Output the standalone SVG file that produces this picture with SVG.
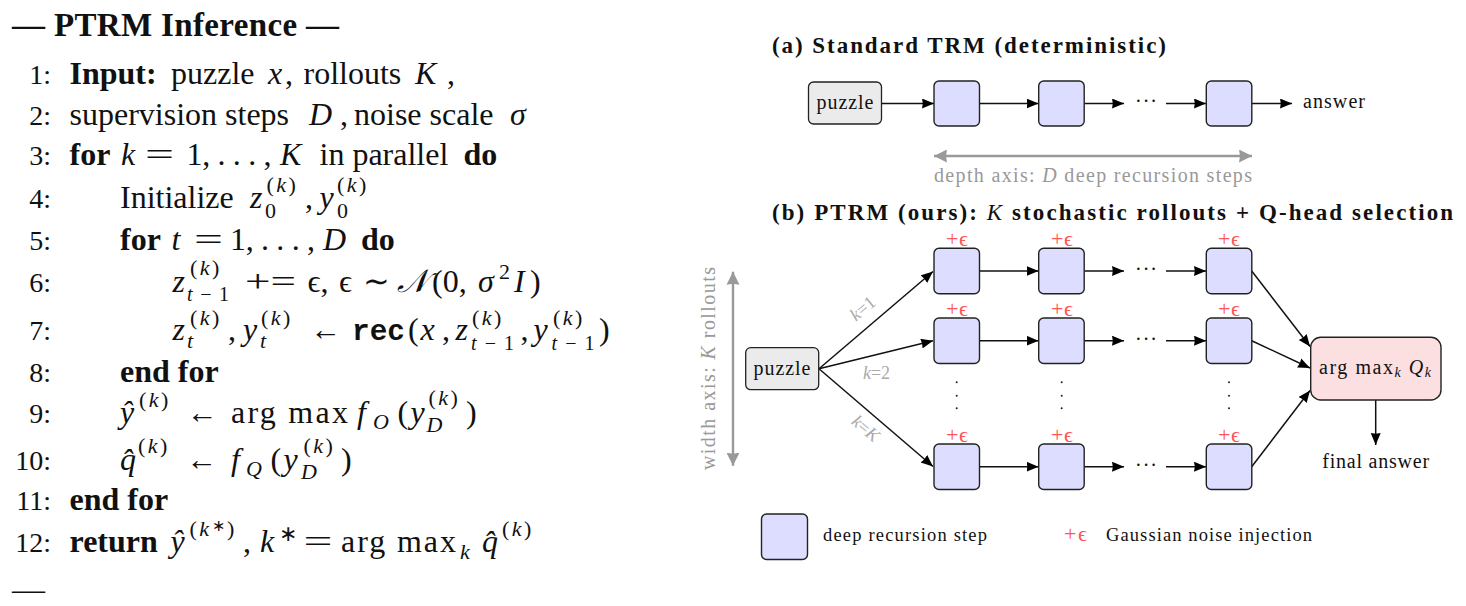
<svg xmlns="http://www.w3.org/2000/svg" width="1466" height="606" viewBox="0 0 1466 606">
<style>
text{font-family:"Liberation Serif","Times New Roman",serif;fill:#111}
.l{font-size:32px}.b{font-weight:700}.i{font-style:italic}
.n{text-anchor:end;font-size:28px}
.s{font-size:22px}.ss{font-size:16px}
.u{letter-spacing:2.500px}
.m{font-family:"Liberation Mono",monospace;font-weight:700}
.h{font-size:23px;font-weight:700}
.c{font-size:20px}
.g{fill:#999}.lg{fill:#aaa;font-size:18px}
.e{fill:#f55;font-size:22px}
.mid{text-anchor:middle}
.lt{font-size:18.500px}
.step{fill:#ddf;stroke:#222;stroke-width:1.4}
.inp{fill:#ebebeb;stroke:#222;stroke-width:1.3}
.sel{fill:#fcdfe0;stroke:#222;stroke-width:1.4}
.w{stroke:#111;stroke-width:1.5;fill:none;marker-end:url(#ah)}
.ax{stroke:#999;stroke-width:2.4;fill:none;marker-end:url(#gh);marker-start:url(#gs)}
.v{fill:#222}
</style>
<defs>
<marker id="ah" markerUnits="userSpaceOnUse" markerWidth="14" markerHeight="12" refX="12" refY="5" orient="auto"><path d="M0 0L12 5L0 10L0.8 5Z" fill="#000"/></marker>
<marker id="gh" markerUnits="userSpaceOnUse" markerWidth="16" markerHeight="14" refX="13" refY="6.5" orient="auto"><path d="M0 0L13 6.5L0 13L1 6.5Z" fill="#999"/></marker>
<marker id="gs" markerUnits="userSpaceOnUse" markerWidth="16" markerHeight="14" refX="0" refY="6.5" orient="auto"><path d="M13 0L0 6.5L13 13L12 6.5Z" fill="#999"/></marker>
</defs>
<g id="algorithm">
<text class="b" x="12" y="36" style="font-size:33px" textLength="327">— PTRM Inference —</text>
<g id="line1"><text class="l n" x="51" y="84">1:</text><text class="l b" x="69.500" y="84">Input:</text><text class="l" x="171" y="84">puzzle</text><text class="l i" x="268" y="84">x</text><text class="l" x="285" y="84">,</text><text class="l" x="303.500" y="84">rollouts</text><text class="l i" x="415" y="84">K</text><text class="l" x="447" y="84">,</text></g>
<g id="line2"><text class="l n" x="51" y="125">2:</text><text class="l" x="69.500" y="125">supervision steps</text><text class="l i" x="309" y="125">D</text><text class="l" x="340" y="125">,</text><text class="l" x="354" y="125">noise scale</text><text class="l i" x="510" y="125">σ</text></g>
<g id="line3"><text class="l n" x="51" y="165">3:</text><text class="l b" x="69.500" y="165">for</text><text class="l i" x="121" y="165">k</text><text class="l" x="145" y="165" textLength="29" lengthAdjust="spacingAndGlyphs">=</text><text class="l" x="186.500" y="165" textLength="85">1, . . . ,</text><text class="l i" x="280" y="165">K</text><text class="l" x="319.500" y="165">in parallel</text><text class="l b" x="463.500" y="165">do</text></g>
<g id="line4"><text class="l n" x="51" y="208">4:</text><text class="l" x="120" y="208">Initialize</text><text class="l i" x="250" y="208">z</text><text class="s u" x="266.500" y="192"><tspan>(</tspan><tspan class="i">k</tspan><tspan>)</tspan></text><text class="s" x="265" y="218">0</text><text class="l" x="305" y="208">,</text><text class="l i" x="319.500" y="208">y</text><text class="s u" x="337" y="192"><tspan>(</tspan><tspan class="i">k</tspan><tspan>)</tspan></text><text class="s" x="337" y="218">0</text></g>
<g id="line5"><text class="l n" x="51" y="250">5:</text><text class="l b" x="120" y="250">for</text><text class="l i" x="171.500" y="250">t</text><text class="l" x="194" y="250" textLength="29" lengthAdjust="spacingAndGlyphs">=</text><text class="l" x="230" y="250" textLength="85">1, . . . ,</text><text class="l i" x="323" y="250">D</text><text class="l b" x="361" y="250">do</text></g>
<g id="line6"><text class="l n" x="51" y="292">6:</text><text class="l i" x="172.500" y="292">z</text><text class="s u" x="190" y="275"><tspan>(</tspan><tspan class="i">k</tspan><tspan>)</tspan></text><text x="187" y="301" style="font-size:20px" textLength="42"><tspan class="i">t</tspan>−1</text><text class="l" x="245" y="292" textLength="51" lengthAdjust="spacingAndGlyphs">+=</text><text class="l" x="307.500" y="292">ϵ,</text><text class="l" x="339" y="292">ϵ</text><text class="l" x="363" y="292">∼</text><text class="l i" x="397" y="292">𝒩</text><text class="l" x="432" y="292">(0,</text><text class="l i" x="478" y="292">σ</text><text class="s" x="499" y="279">2</text><text class="l i" x="514" y="292">I</text><text class="l" x="530" y="292">)</text></g>
<g id="line7"><text class="l n" x="51" y="340">7:</text><text class="l i" x="172.500" y="340">z</text><text class="s u" x="190" y="325"><tspan>(</tspan><tspan class="i">k</tspan><tspan>)</tspan></text><text class="s i" x="187" y="348">t</text><text class="l" x="228" y="340">,</text><text class="l i" x="243" y="340">y</text><text class="s u" x="261" y="325"><tspan>(</tspan><tspan class="i">k</tspan><tspan>)</tspan></text><text class="s i" x="260" y="348">t</text><text class="l" x="310" y="340" textLength="31" lengthAdjust="spacingAndGlyphs">←</text><text class="m" x="352" y="340" textLength="53" lengthAdjust="spacingAndGlyphs" style="font-size:29px">rec</text><text class="l" x="408" y="340">(</text><text class="l i" x="420.500" y="340">x</text><text class="l" x="442" y="340">,</text><text class="l i" x="455.500" y="340">z</text><text class="s u" x="472" y="325"><tspan>(</tspan><tspan class="i">k</tspan><tspan>)</tspan></text><text x="471" y="350" style="font-size:20px" textLength="43"><tspan class="i">t</tspan>−1</text><text class="l" x="520.500" y="340">,</text><text class="l i" x="533.500" y="340">y</text><text class="s u" x="553" y="325"><tspan>(</tspan><tspan class="i">k</tspan><tspan>)</tspan></text><text x="551.500" y="350" style="font-size:20px" textLength="43"><tspan class="i">t</tspan>−1</text><text class="l" x="599" y="340">)</text></g>
<g id="line8"><text class="l n" x="51" y="382">8:</text><text class="l b" x="120" y="382">end for</text></g>
<g id="line9"><text class="l n" x="51" y="423">9:</text><text class="l i" x="120" y="423">ŷ</text><text class="s u" x="139" y="407"><tspan>(</tspan><tspan class="i">k</tspan><tspan>)</tspan></text><text class="l" x="186.500" y="423" textLength="31" lengthAdjust="spacingAndGlyphs">←</text><text class="l" x="231" y="423" textLength="117">arg max</text><text class="l i" x="357" y="423">f</text><text class="s i" x="373" y="429">O</text><text class="l" x="397.500" y="423">(</text><text class="l i" x="410.500" y="423">y</text><text class="s u" x="428.500" y="405"><tspan>(</tspan><tspan class="i">k</tspan><tspan>)</tspan></text><text class="s i" x="426.500" y="432">D</text><text class="l" x="466" y="423">)</text></g>
<g id="line10"><text class="l n" x="51" y="470">10:</text><text class="l i" x="120" y="470">q̂</text><text class="s u" x="138" y="453"><tspan>(</tspan><tspan class="i">k</tspan><tspan>)</tspan></text><text class="l" x="186" y="470" textLength="31" lengthAdjust="spacingAndGlyphs">←</text><text class="l i" x="231" y="470">f</text><text class="s i" x="246" y="476">Q</text><text class="l" x="270.500" y="470">(</text><text class="l i" x="283.500" y="470">y</text><text class="s u" x="303.500" y="453"><tspan>(</tspan><tspan class="i">k</tspan><tspan>)</tspan></text><text class="s i" x="301" y="479">D</text><text class="l" x="341" y="470">)</text></g>
<g id="line11"><text class="l n" x="51" y="510">11:</text><text class="l b" x="69.500" y="510">end for</text></g>
<g id="line12"><text class="l n" x="51" y="552">12:</text><text class="l b" x="69.500" y="552">return</text><text class="l i" x="170.500" y="552">ŷ</text><text class="s u" x="189.500" y="536"><tspan>(</tspan><tspan class="i">k</tspan><tspan class="ss" dy="-5">∗</tspan><tspan dy="5">)</tspan></text><text class="l" x="243" y="552">,</text><text class="l i" x="260" y="552">k</text><text class="s" x="279" y="541">∗</text><text class="l" x="303.500" y="552" textLength="29" lengthAdjust="spacingAndGlyphs">=</text><text class="l" x="341" y="552" textLength="115">arg max</text><text class="s i" x="460" y="559">k</text><text class="l i" x="482" y="552">q̂</text><text class="s u" x="502" y="536"><tspan>(</tspan><tspan class="i">k</tspan><tspan>)</tspan></text></g>
<text class="l" x="12" y="600" id="rule" textLength="33" lengthAdjust="spacingAndGlyphs">—</text>
</g>
<g id="connectors">
<path class="w" d="M882 103.500H934"/><path class="w" d="M979.500 103.500H1038.500"/><path class="w" d="M1084.500 103.500H1124"/><path class="w" d="M1166 103.500H1206"/><path class="w" d="M1252 103.500H1292"/>
<path class="ax" d="M934 156H1252"/>
<path class="ax" d="M733 271.700V465.700"/>
<path class="w" d="M819 368.700L933 271.500"/><path class="w" d="M819 368.700L933 340.800"/><path class="w" d="M819 368.700L933 466.500"/>
<path class="w" d="M979.500 271H1038.500"/><path class="w" d="M1084.500 271H1124"/><path class="w" d="M1166 271H1206"/>
<path class="w" d="M979.500 340.700H1038.500"/><path class="w" d="M1084.500 340.700H1124"/><path class="w" d="M1166 340.700H1206"/>
<path class="w" d="M979.500 466.700H1038.500"/><path class="w" d="M1084.500 466.700H1124"/><path class="w" d="M1166 466.700H1206"/>
<path class="w" d="M1251.700 271L1310 346.500"/><path class="w" d="M1251.700 340.700L1310 368"/><path class="w" d="M1251.700 466.700L1310 390.500"/>
<path class="w" d="M1375.700 400V445"/>
</g>
<g id="panel-a">
<text class="h" x="772" y="53" textLength="394">(a) Standard TRM (deterministic)</text>
<g id="a-puzzle"><rect class="inp" x="808.500" y="82" width="73" height="42" rx="5"/><text class="c mid" x="845" y="108.500" textLength="57">puzzle</text></g>
<g id="a-step1"><rect class="step" x="934" y="81" width="45.500" height="45" rx="5"/></g>
<g id="a-step2"><rect class="step" x="1038.700" y="81" width="45.500" height="45" rx="5"/></g>
<text class="c" x="1135" y="108" textLength="22">···</text>
<g id="a-step3"><rect class="step" x="1206.300" y="81" width="45.500" height="45" rx="5"/></g>
<g id="a-answer"><text class="c" x="1303" y="108" textLength="62">answer</text></g>
<text class="c g" x="934" y="182" textLength="318"><tspan>depth axis: </tspan><tspan class="i">D</tspan><tspan> deep recursion steps</tspan></text>
</g>
<g id="panel-b">
<text class="h" x="772" y="220" textLength="681"><tspan>(b) PTRM (ours): </tspan><tspan class="i" font-weight="400">K</tspan><tspan> stochastic rollouts + Q-head selection</tspan></text>
<text class="c g" transform="translate(715 470) rotate(-90)" textLength="203"><tspan>width axis: </tspan><tspan class="i">K</tspan><tspan> rollouts</tspan></text>
<g id="b-puzzle"><rect class="inp" x="745.700" y="347.700" width="73" height="42" rx="5"/><text class="c mid" x="782" y="374.500" textLength="57">puzzle</text></g>
<text class="lg i mid" transform="translate(866.500 313) rotate(-40)"><tspan>k</tspan><tspan font-style="normal">=1</tspan></text>
<text class="lg i mid" x="876.500" y="379"><tspan>k</tspan><tspan font-style="normal">=2</tspan></text>
<text class="lg i mid" transform="translate(862 433) rotate(40)"><tspan>k</tspan><tspan font-style="normal">=</tspan><tspan>K</tspan></text>
<g id="r1c1"><rect class="step" x="934" y="248.300" width="45.500" height="45.500" rx="5"/><text class="e" x="946" y="246" textLength="22">+ϵ</text></g>
<g id="r1c2"><rect class="step" x="1038.700" y="248.300" width="45.500" height="45.500" rx="5"/><text class="e" x="1051" y="246" textLength="22">+ϵ</text></g>
<text class="c" x="1135" y="276" textLength="22">···</text>
<g id="r1c3"><rect class="step" x="1206.300" y="248.300" width="45.500" height="45.500" rx="5"/><text class="e" x="1218" y="246" textLength="22">+ϵ</text></g>
<g id="r2c1"><rect class="step" x="934" y="318" width="45.500" height="45.500" rx="5"/><text class="e" x="946" y="316" textLength="22">+ϵ</text></g>
<g id="r2c2"><rect class="step" x="1038.700" y="318" width="45.500" height="45.500" rx="5"/><text class="e" x="1051" y="316" textLength="22">+ϵ</text></g>
<text class="c" x="1135" y="346" textLength="22">···</text>
<g id="r2c3"><rect class="step" x="1206.300" y="318" width="45.500" height="45.500" rx="5"/><text class="e" x="1218" y="316" textLength="22">+ϵ</text></g>
<g id="vdots"><circle class="v" cx="956.700" cy="382.300" r="1"/><circle class="v" cx="956.700" cy="395.700" r="1"/><circle class="v" cx="956.700" cy="408.300" r="1"/><circle class="v" cx="1061.700" cy="382.300" r="1"/><circle class="v" cx="1061.700" cy="395.700" r="1"/><circle class="v" cx="1061.700" cy="408.300" r="1"/><circle class="v" cx="1229" cy="382.300" r="1"/><circle class="v" cx="1229" cy="395.700" r="1"/><circle class="v" cx="1229" cy="408.300" r="1"/></g>
<g id="rKc1"><rect class="step" x="934" y="444" width="45.500" height="45.500" rx="5"/><text class="e" x="946" y="442" textLength="22">+ϵ</text></g>
<g id="rKc2"><rect class="step" x="1038.700" y="444" width="45.500" height="45.500" rx="5"/><text class="e" x="1051" y="442" textLength="22">+ϵ</text></g>
<text class="c" x="1135" y="472" textLength="22">···</text>
<g id="rKc3"><rect class="step" x="1206.300" y="444" width="45.500" height="45.500" rx="5"/><text class="e" x="1218" y="442" textLength="22">+ϵ</text></g>
<g id="selector"><rect class="sel" x="1310.700" y="337.300" width="130.300" height="62.700" rx="10"/><text class="c" x="1319" y="374" textLength="112"><tspan>arg max</tspan><tspan class="i" font-size="14" dy="3">k</tspan><tspan class="i" dy="-3"> Q</tspan><tspan class="i" font-size="14" dy="3">k</tspan></text></g>
<g id="final-answer"><text class="c mid" x="1375.700" y="468" textLength="107">final answer</text></g>
</g>
<g id="legend">
<g id="legend-step"><rect class="step" x="761.500" y="514" width="46" height="45.500" rx="5"/><text class="lt" x="823" y="541" textLength="164">deep recursion step</text></g>
<g id="legend-noise"><text class="e" x="1064" y="541" textLength="23">+ϵ</text><text class="lt" x="1106" y="541" textLength="206">Gaussian noise injection</text></g>
</g>
</svg>
